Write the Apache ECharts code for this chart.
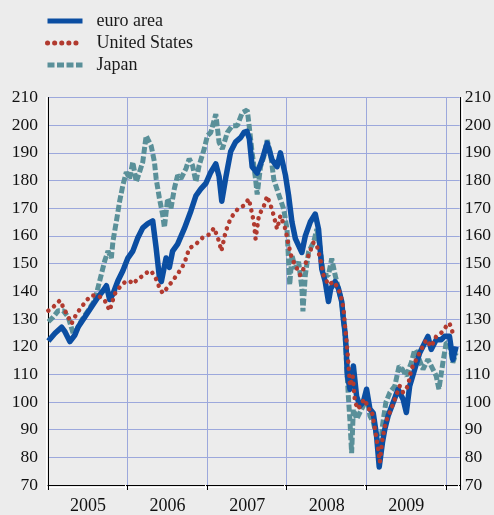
<!DOCTYPE html>
<html>
<head>
<meta charset="utf-8">
<script src="https://cdn.jsdelivr.net/npm/echarts@6/dist/echarts.min.js"></script>
<style>
  html, body { margin: 0; padding: 0; background: #ececec; }
  #chart { width: 494px; height: 515px; }
</style>
</head>
<body>
<div id="chart"></div>
<script>
// stock price indices (time as decimal years)
var seriesNames = ['euro area', 'United States', 'Japan'];
var yearLabels = [2005, 2006, 2007, 2008, 2009];

var euroT = [2005.004,2005.088,2005.171,2005.213,2005.275,2005.338,2005.379,2005.463,2005.546,2005.629,2005.691,2005.734,2005.775,2005.816,2005.879,2005.941,
  2006.004,2006.066,2006.129,2006.191,2006.254,2006.316,2006.359,2006.4,2006.425,2006.484,2006.525,2006.566,2006.629,2006.713,2006.796,2006.859,2006.921,2006.984,
  2007.046,2007.109,2007.15,2007.184,2007.234,2007.296,2007.359,2007.421,2007.463,2007.5,2007.531,2007.566,2007.629,2007.691,2007.754,2007.816,2007.879,2007.921,2007.984,
  2008.025,2008.066,2008.109,2008.15,2008.191,2008.234,2008.296,2008.359,2008.4,2008.441,2008.484,2008.525,2008.554,2008.609,2008.65,2008.691,2008.713,2008.734,2008.746,2008.763,2008.796,2008.816,2008.838,2008.879,2008.921,2008.963,
  2009.004,2009.046,2009.088,2009.129,2009.163,2009.204,2009.234,2009.275,2009.338,2009.4,2009.463,2009.504,2009.546,2009.609,2009.671,2009.734,2009.775,2009.816,2009.879,2009.941,2009.984,
  2010.046,2010.088,2010.129];
var euroV = [122,124.8,127,125.4,121.8,124.2,127.1,130.7,134.3,137.9,140.2,142,137,139,143.8,147.4,
  152,154.5,159.3,162.9,164.4,165.4,155.7,145,143.5,152,148.6,154.5,157,162.6,169,174.5,177,179,
  183,186,181.5,172.5,181,190.5,194,195.5,197.4,197.8,195,185,182.7,187.5,193.5,187.5,185,190,182,
  174.4,165,159,156.5,154,160,165,167.9,162.5,148,143.5,136.3,141,143.5,141,136.3,129.7,125,120,109.4,104.6,109,113,102,98.6,100,
  104.6,97.4,96,87.9,76.5,85.4,90.3,95,99.8,104.6,101,96.2,105.8,111.8,117.7,121.3,123.7,119,122.5,122.5,123.7,
  123.7,115.3,120];

var usT = [2005.004,2005.066,2005.15,2005.191,2005.254,2005.296,2005.359,2005.421,2005.484,2005.546,2005.629,2005.713,2005.775,2005.838,2005.9,2005.963,
  2006.025,2006.066,2006.129,2006.191,2006.254,2006.296,2006.359,2006.4,2006.441,2006.504,2006.566,2006.629,2006.713,2006.775,2006.859,2006.941,
  2007.025,2007.088,2007.15,2007.179,2007.234,2007.296,2007.379,2007.463,2007.525,2007.588,2007.609,2007.65,2007.713,2007.754,2007.816,2007.879,2007.921,2007.984,
  2008.025,2008.066,2008.129,2008.171,2008.213,2008.275,2008.338,2008.379,2008.421,2008.463,2008.525,2008.588,2008.65,2008.691,2008.713,2008.734,2008.746,2008.775,2008.796,2008.829,2008.859,2008.9,2008.941,2008.984,
  2009.025,2009.066,2009.109,2009.15,2009.171,2009.204,2009.246,2009.296,2009.359,2009.421,2009.463,2009.525,2009.566,2009.629,2009.691,2009.754,2009.816,2009.879,2009.941,
  2010.004,2010.046,2010.088,2010.129];
var usV = [133,134.3,136.7,134.3,130.7,128.3,131.9,134.3,136.7,138.5,138.5,136.7,133,139,141.4,143.2,
  143.8,142.6,144.4,145.6,147,147.4,144.4,141.4,139.3,141.4,143.8,146.2,150,155.5,157,159.3,
  160.5,162.9,158,154.5,161.7,166.4,169.5,171,173.4,164.9,158.9,167.3,170.8,174.4,169.6,162.5,167.3,162.5,
  156.5,151.8,148.2,145.8,148.2,153,157.7,156.5,151.8,145.8,142.3,143.5,141,137,134,127,124,114,105.8,109.4,99.8,97.4,99.8,101,
  97.4,97.4,90.3,83,78.3,86.7,92.7,96.2,101,105.8,103.4,105.8,111.8,115.4,119,122.5,120,123.7,124.9,
  127.3,128.5,124.9,126];

var jpT = [2005.004,2005.066,2005.129,2005.191,2005.254,2005.316,2005.359,2005.421,2005.504,2005.588,2005.629,2005.671,2005.713,2005.754,2005.796,2005.816,2005.859,2005.9,2005.941,2005.984,
  2006.025,2006.066,2006.109,2006.15,2006.191,2006.234,2006.254,2006.296,2006.338,2006.359,2006.4,2006.441,2006.463,2006.504,2006.546,2006.588,2006.629,2006.671,2006.734,2006.775,2006.816,2006.859,2006.9,2006.963,
  2007.004,2007.046,2007.109,2007.15,2007.191,2007.254,2007.316,2007.379,2007.441,2007.504,2007.525,2007.566,2007.609,2007.629,2007.671,2007.713,2007.754,2007.796,2007.838,2007.879,2007.921,2007.963,
  2008.004,2008.038,2008.066,2008.109,2008.15,2008.191,2008.204,2008.234,2008.275,2008.338,2008.379,2008.421,2008.463,2008.525,2008.566,2008.609,2008.65,2008.691,2008.734,2008.756,2008.775,2008.796,2008.816,2008.838,2008.879,2008.921,2008.963,
  2009.004,2009.046,2009.088,2009.129,2009.171,2009.204,2009.246,2009.296,2009.359,2009.413,2009.454,2009.504,2009.566,2009.609,2009.65,2009.713,2009.775,2009.838,2009.879,2009.913,2009.963,
  2010.004,2010.046,2010.088,2010.129];
var jpV = [129,130.7,133,133,130.7,124.8,126,129.5,133,136.7,141.4,146.2,151,154.5,152,158,165.2,172.4,178.3,183,
  180.7,186.7,179.5,183,186.7,196.2,195,192.6,186.7,180.7,173.6,167.6,163,173.6,170,177.1,181.9,180.7,184.3,187.9,185.5,179.5,185.5,191.4,
  196.2,197.4,204,193.8,191.4,197.4,199.8,199.8,204.5,205.5,200.6,190,180.4,175,185,188.7,194.6,190,180.4,176.8,173.2,169.6,
  162.5,142.3,153,148.2,150.6,141,132.7,145.8,154.2,157.7,162.5,155.4,145.8,145.8,151.8,145.8,141,136.3,124,112,102,92.7,81.5,97.4,93.8,96.2,98.6,
  103.4,95,92.7,87.9,81.9,91.5,99.8,103.4,105.8,113,111.8,109.4,114.2,118.9,116.6,111.8,115.4,111.8,109.4,104.6,114.2,
  121.3,121.3,114.2,117.7];

function pairs(t, v) {
  return t.map(function (x, i) { return [x, v[i]]; });
}

var font = 'Liberation Serif';
var gridColor = '#9ca8dc';

var myChart = echarts.init(document.getElementById('chart'));

option = {
  backgroundColor: '#ececec',
  animation: false,
  textStyle: { fontFamily: font },
  grid: { left: 48, right: 32, top: 97.5, bottom: 25 },
  legend: {
    data: seriesNames,
    orient: 'vertical',
    left: 40,
    top: 7,
    itemWidth: 35,
    itemHeight: 14,
    itemGap: 4,
    itemStyle: { color: 'rgba(0,0,0,0)', borderWidth: 0, opacity: 0 },
    lineStyle: { width: 5 },
    textStyle: { fontFamily: font, fontSize: 18, color: '#1a1a1a', padding: [0, 0, 0, 9] }
  },
  xAxis: {
    type: 'value',
    min: 2005,
    max: 2010.175,
    interval: 1,
    axisLine: { lineStyle: { color: '#000', width: 1, shadowColor: '#fff', shadowOffsetY: 2, shadowBlur: 0 } },
    axisTick: { show: true, length: 5, lineStyle: { color: '#000', width: 1, shadowColor: '#fff', shadowOffsetX: -2, shadowBlur: 0 } },
    splitLine: { show: true, lineStyle: { color: gridColor, width: 1 } },
    axisLabel: {
      margin: 12,
      formatter: function (v) {
        var y = Math.round(v);
        return (Math.abs(v - y) < 1e-6 && yearLabels.indexOf(y) >= 0) ? '{a|' + y + '}' : '';
      },
      rich: { a: { fontFamily: font, fontSize: 18, color: '#111', padding: [0, 0, 0, 80] } }
    }
  },
  yAxis: [{
    type: 'value',
    min: 70,
    max: 210,
    interval: 10,
    position: 'left',
    axisLine: { show: true, lineStyle: { color: '#000', width: 1, shadowColor: '#fff', shadowOffsetX: -2, shadowBlur: 0 } },
    axisTick: { show: false },
    splitLine: { show: true, lineStyle: { color: gridColor, width: 1 } },
    axisLabel: { margin: 10, fontFamily: font, fontSize: 17.5, color: '#111' }
  }, {
    type: 'value',
    min: 70,
    max: 210,
    interval: 10,
    position: 'right',
    axisLine: { show: true, lineStyle: { color: '#000', width: 1, shadowColor: '#fff', shadowOffsetX: 2, shadowBlur: 0 } },
    axisTick: { show: false },
    splitLine: { show: false },
    axisLabel: { margin: 5, fontFamily: font, fontSize: 17.5, color: '#111' }
  }],
  series: [{
    name: 'euro area',
    type: 'line',
    z: 3,
    symbol: 'none',
    data: pairs(euroT, euroV),
    lineStyle: { color: '#0b4ea2', width: 5.5, join: 'round' },
    itemStyle: { color: '#0b4ea2' }
  }, {
    name: 'United States',
    type: 'line',
    z: 4,
    symbol: 'none',
    data: pairs(usT, usV),
    lineStyle: { color: '#b13a2f', width: 4.5, type: [0.1, 7], cap: 'round' },
    itemStyle: { color: '#b13a2f' }
  }, {
    name: 'Japan',
    type: 'line',
    z: 2,
    symbol: 'none',
    data: pairs(jpT, jpV),
    lineStyle: { color: '#5a9099', width: 5, type: [7, 2.5] },
    itemStyle: { color: '#5a9099' }
  }]
};

window.addEventListener('resize', function () {
  myChart.resize();
});
myChart.setOption(option);
</script>
</body>
</html>
